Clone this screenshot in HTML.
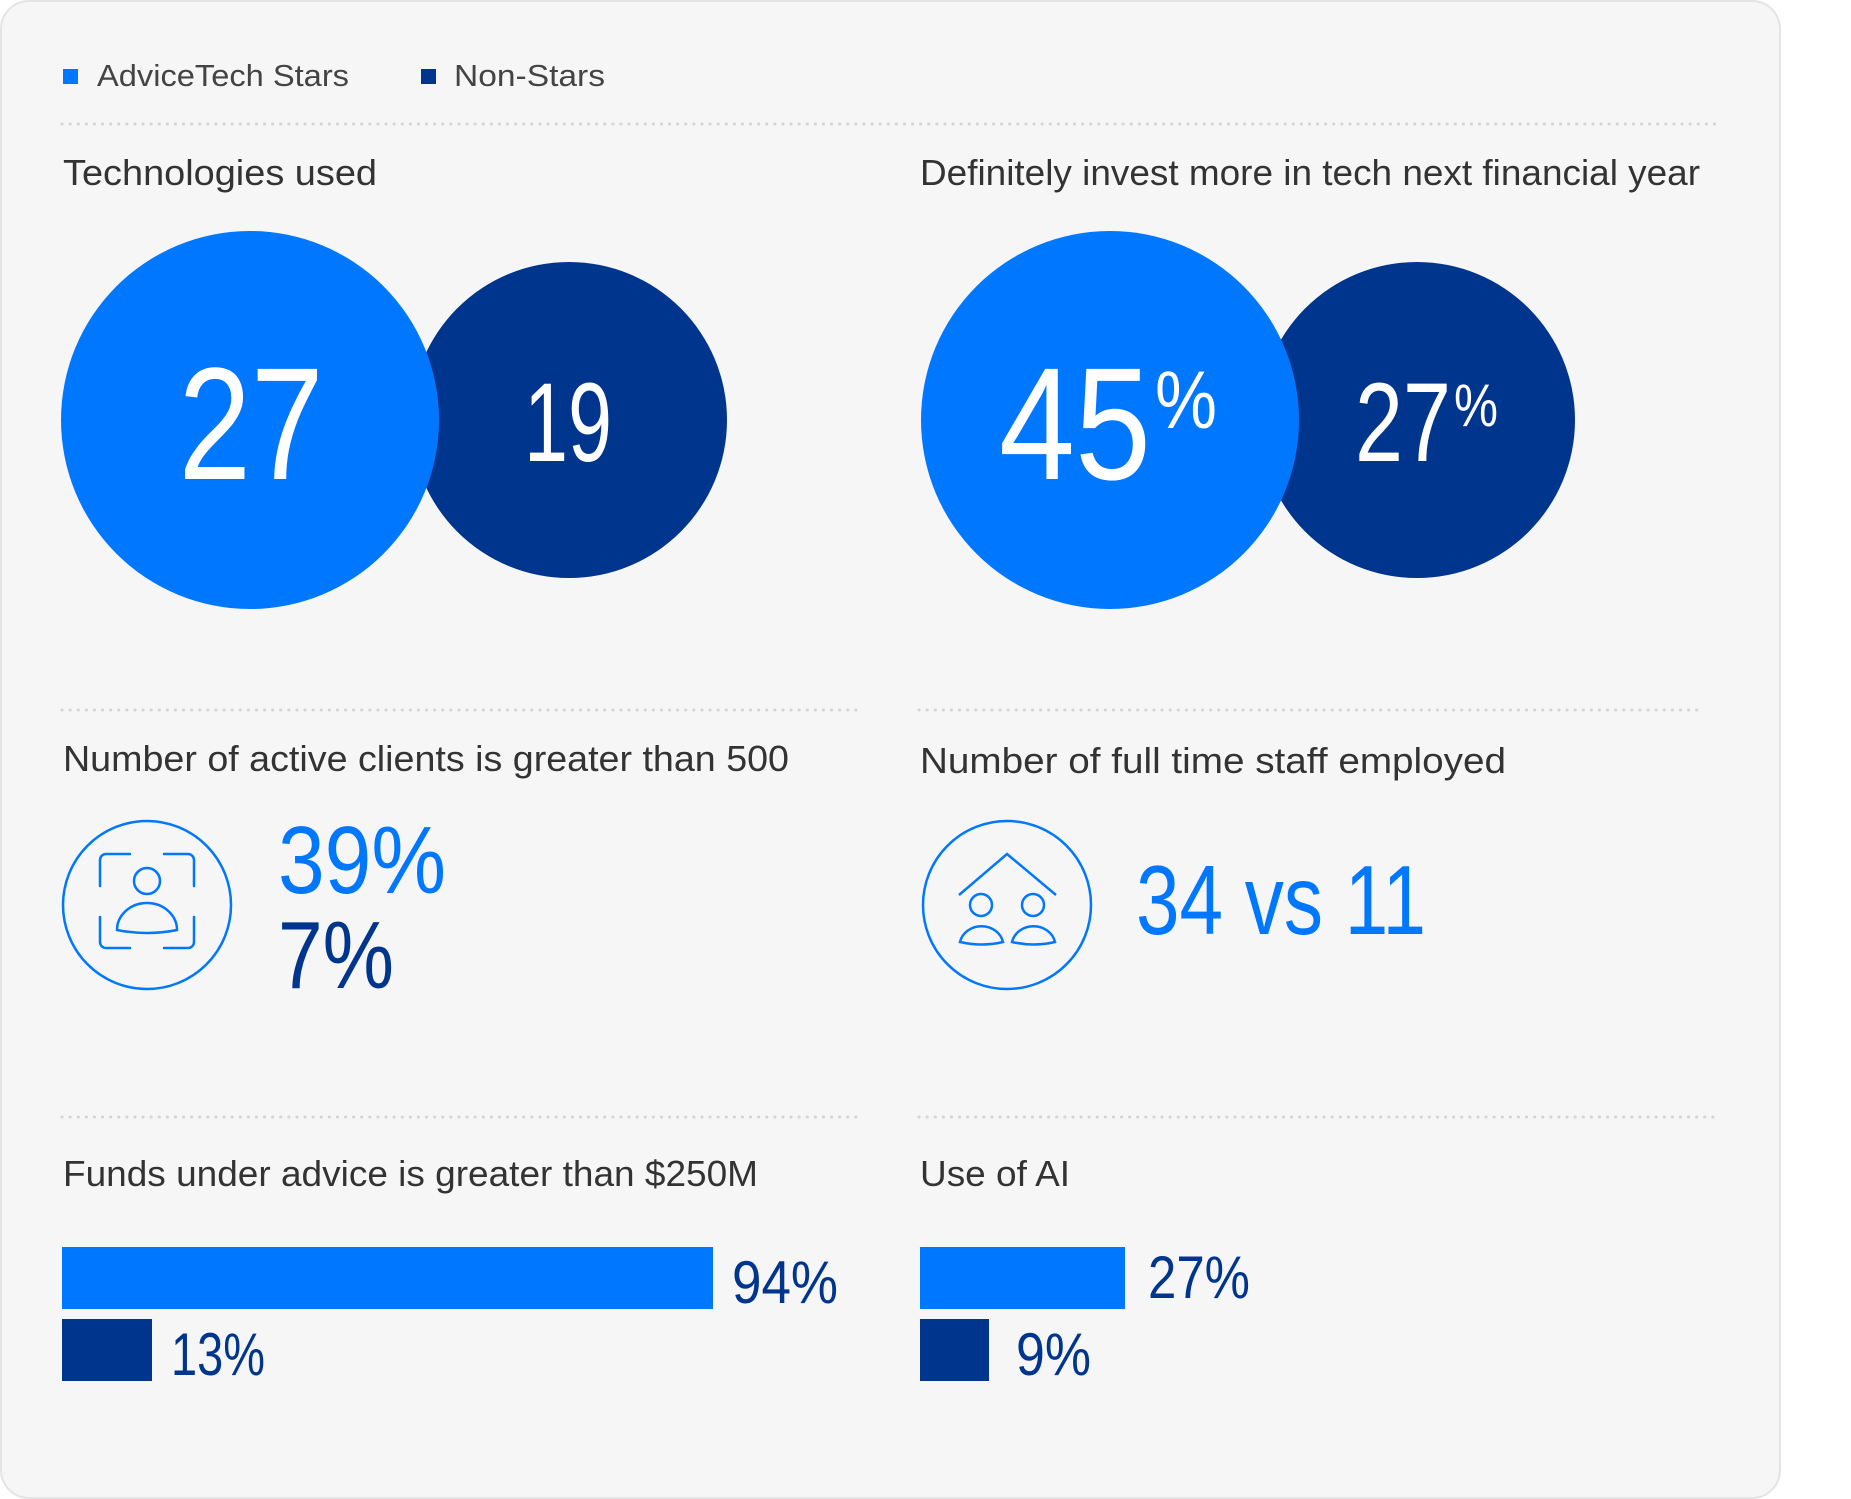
<!DOCTYPE html>
<html><head><meta charset="utf-8"><style>
html,body{margin:0;padding:0;background:#fff;}
svg{display:block;}
text{font-family:"Liberation Sans",sans-serif;}
</style></head><body>
<svg width="1851" height="1499" viewBox="0 0 1851 1499" xmlns="http://www.w3.org/2000/svg">
<rect x="1" y="1" width="1779" height="1497" rx="28" fill="#f6f6f6" stroke="#e4e4e4" stroke-width="2"/>
<!-- legend -->
<rect x="63" y="69" width="15" height="15" fill="#0077ff"/>
<text x="97" y="86" font-size="31" fill="#444" textLength="252" lengthAdjust="spacingAndGlyphs">AdviceTech Stars</text>
<rect x="421" y="69" width="15" height="15" fill="#00358e"/>
<text x="454" y="86" font-size="31" fill="#444" textLength="151" lengthAdjust="spacingAndGlyphs">Non-Stars</text>
<g stroke="#d4d4d4" stroke-width="3" stroke-dasharray="0.1 8" stroke-linecap="round">
<line x1="62" y1="124" x2="1720" y2="124"/>
<line x1="62" y1="710" x2="860" y2="710"/>
<line x1="919" y1="710" x2="1703" y2="710"/>
<line x1="62" y1="1117" x2="862" y2="1117"/>
<line x1="919" y1="1117" x2="1720" y2="1117"/>
</g>
<g fill="#333" font-size="36">
<text x="63" y="185" textLength="314" lengthAdjust="spacingAndGlyphs">Technologies used</text>
<text x="920" y="185" textLength="780" lengthAdjust="spacingAndGlyphs">Definitely invest more in tech next financial year</text>
<text x="63" y="771" textLength="726" lengthAdjust="spacingAndGlyphs">Number of active clients is greater than 500</text>
<text x="920" y="773" textLength="586" lengthAdjust="spacingAndGlyphs">Number of full time staff employed</text>
<text x="63" y="1186" textLength="695" lengthAdjust="spacingAndGlyphs">Funds under advice is greater than $250M</text>
<text x="920" y="1186" textLength="150" lengthAdjust="spacingAndGlyphs">Use of AI</text>
</g>
<!-- circles -->
<circle cx="569" cy="420" r="158" fill="#00358e"/>
<circle cx="250" cy="420" r="189" fill="#0077ff"/>
<circle cx="1417" cy="420" r="158" fill="#00358e"/>
<circle cx="1110" cy="420" r="189" fill="#0077ff"/>
<g fill="#fff">
<text x="251" y="479" font-size="160" text-anchor="middle" textLength="145" lengthAdjust="spacingAndGlyphs">27</text>
<text x="568" y="461" font-size="112" text-anchor="middle" textLength="88" lengthAdjust="spacingAndGlyphs">19</text>
<text x="999" y="479" font-size="160" textLength="152" lengthAdjust="spacingAndGlyphs">45</text>
<text x="1155" y="428" font-size="82" textLength="62" lengthAdjust="spacingAndGlyphs">%</text>
<text x="1355" y="461" font-size="112" textLength="96" lengthAdjust="spacingAndGlyphs">27</text>
<text x="1454" y="426" font-size="60" textLength="44" lengthAdjust="spacingAndGlyphs">%</text>
</g>
<!-- icon 1 -->
<g fill="none" stroke="#0077ff" stroke-width="2.5" stroke-linecap="round">
<circle cx="147" cy="905" r="84"/>
<path d="M100 886 V860 a6 6 0 0 1 6-6 H130 M164 854 H188 a6 6 0 0 1 6 6 V886 M194 917 V942 a6 6 0 0 1-6 6 H164 M130 948 H106 a6 6 0 0 1-6-6 V917"/>
<circle cx="147" cy="881" r="13"/>
<path d="M117 930 A30 27 0 0 1 177 930 Q147 936 117 930 Z"/>
</g>
<!-- icon 2 -->
<g fill="none" stroke="#0077ff" stroke-width="2.5">
<circle cx="1007" cy="905" r="84"/>
<path d="M959 895 L1007 854 L1056 895"/>
<circle cx="981" cy="905" r="11"/>
<circle cx="1033" cy="905" r="11"/>
<path d="M960 942 A22 20 0 0 1 1003 942 Q982 947 960 942 Z"/>
<path d="M1012 942 A22 20 0 0 1 1055 942 Q1034 947 1012 942 Z"/>
</g>
<text x="278" y="893" font-size="96" fill="#0077ff" textLength="168" lengthAdjust="spacingAndGlyphs">39%</text>
<text x="278" y="988" font-size="96" fill="#00358e" textLength="116" lengthAdjust="spacingAndGlyphs">7%</text>
<text x="1136" y="934" font-size="98" fill="#0077ff" textLength="290" lengthAdjust="spacingAndGlyphs">34 vs 11</text>
<!-- bars -->
<rect x="62" y="1247" width="651" height="62" fill="#0077ff"/>
<rect x="62" y="1319" width="90" height="62" fill="#00358e"/>
<rect x="920" y="1247" width="205" height="62" fill="#0077ff"/>
<rect x="920" y="1319" width="69" height="62" fill="#00358e"/>
<g fill="#00358e" font-size="60">
<text x="732" y="1303" textLength="106" lengthAdjust="spacingAndGlyphs">94%</text>
<text x="171" y="1375" textLength="94" lengthAdjust="spacingAndGlyphs">13%</text>
<text x="1148" y="1298" textLength="102" lengthAdjust="spacingAndGlyphs">27%</text>
<text x="1016" y="1375" textLength="75" lengthAdjust="spacingAndGlyphs">9%</text>
</g>
</svg>
</body></html>
